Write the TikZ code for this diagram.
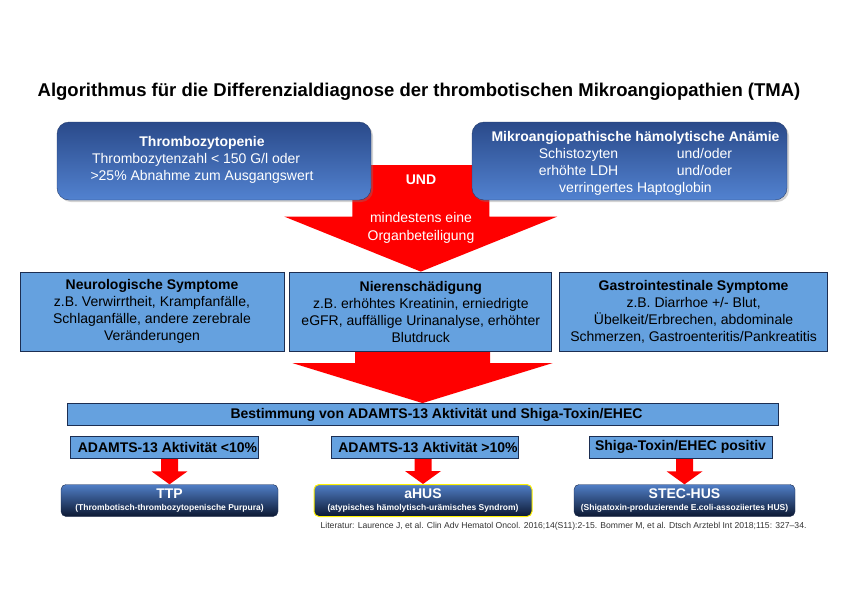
\documentclass[tikz,border=0pt]{standalone}
\usepackage{fontspec}
\setmainfont{Liberation Sans}
\usepackage{tikz}
\usetikzlibrary{positioning, calc, shadows, backgrounds}

\definecolor{headtop}{RGB}{42,74,138}
\definecolor{headbottom}{RGB}{82,130,208}
\definecolor{headline}{RGB}{38,62,110}
\definecolor{organfill}{RGB}{101,161,223}
\definecolor{organline}{RGB}{28,46,82}
\definecolor{arrowred}{RGB}{255,0,0}
\definecolor{resulttop}{RGB}{80,126,198}
\definecolor{resultbottom}{RGB}{12,24,50}
\definecolor{littext}{RGB}{50,50,50}

\newcommand{\diagfont}{\bfseries\fontsize{14}{12}\selectfont}

% block arrow: start, tip, shaft half width, head half width, head length
\newcommand{\redarrow}[5]{%
  \fill[arrowred] let \p1=(#1), \p2=(#2) in
    (\x2-#3,\y1) -- (\x2-#3,\y2+#5) -- (\x2-#4,\y2+#5) -- (\x2,\y2)
    -- (\x2+#4,\y2+#5) -- (\x2+#3,\y2+#5) -- (\x2+#3,\y1) -- cycle;}

\begin{document}
\begin{tikzpicture}[
    x=1pt, y=-1pt,
    every node/.style={font=\fontsize{14}{17}\selectfont},
    headbox/.style={rectangle, rounded corners=12pt, draw=headline, top color=headtop, bottom color=headbottom, minimum width=314pt, minimum height=78pt, drop shadow={shadow xshift=2pt, shadow yshift=-2pt, opacity=0.35}},
    headtext/.style={text=white, align=center, inner sep=0pt},
    organbox/.style={rectangle, draw=organline, fill=organfill, line width=0.8pt, minimum height=79pt, align=center, inner sep=1pt},
    testbox/.style={rectangle, draw=organline, fill=organfill, line width=0.8pt, minimum height=22pt, inner sep=1pt, font=\bfseries\fontsize{14}{16}\selectfont},
    resultbox/.style={rectangle, rounded corners=5pt, draw=headline!70!black, top color=resulttop, bottom color=resultbottom, minimum height=32pt, inner sep=1pt, text=white, align=center, font=\bfseries\fontsize{8.5}{12}\selectfont}
]
\useasboundingbox (0,0) rectangle (842,595);

% Title
\node[font=\bfseries\fontsize{18.5}{22}\selectfont] (title) at (419,92) {Algorithmus für die Differenzialdiagnose der thrombotischen Mikroangiopathien (TMA)};

% Criteria
\node[headbox] (thrombo) at (214,161) {};
\node[headtext] (thrombotext) at ([xshift=-12pt,yshift=1pt]thrombo.center) {\textbf{Thrombozytopenie}\\ \makebox[220pt][l]{Thrombozytenzahl < 150 G/l oder}\\ >25\% Abnahme zum Ausgangswert};

\node[headbox, minimum width=315pt] (maha) at (629.5,161) {};
\node[headtext] (mahatext) at ([xshift=6pt,yshift=-2pt]maha.center) {\textbf{Mikroangiopathische hämolytische Anämie}\\ \makebox[80pt][l]{Schistozyten}\hspace{58pt}und/oder\\ \makebox[80pt][l]{erhöhte LDH}\hspace{58pt}und/oder\\ verringertes Haptoglobin};

\coordinate (split) at (421,165);
\node[text=white, font=\bfseries\fontsize{14}{17}\selectfont] (und) at (421,180) {UND};
\node[text=white, align=center, font=\fontsize{14}{18}\selectfont] (organ) at (421,228) {mindestens eine\\Organbeteiligung};

% Organ involvement
\node[organbox, minimum width=264pt] (neuro) at (152,311.5) {\textbf{Neurologische Symptome}\\z.B. Verwirrtheit, Krampfanfälle,\\Schlaganfälle, andere zerebrale\\Veränderungen};
\node[organbox, minimum width=262pt, right=5pt of neuro] (niere) {\textbf{Nierenschädigung}\\z.B. erhöhtes Kreatinin, erniedrigte\\eGFR, auffällige Urinanalyse, erhöhter\\Blutdruck};
\node[organbox, minimum width=268pt, right=7pt of niere] (gastro) {\textbf{Gastrointestinale Symptome}\\z.B. Diarrhoe +/- Blut,\\Übelkeit/Erbrechen, abdominale\\Schmerzen, Gastroenteritis/Pankreatitis};

% Tests
\node[testbox, minimum width=711pt] (test) at (422.5,414.5) {\hspace*{28pt}Bestimmung von ADAMTS-13 Aktivität und Shiga-Toxin/EHEC};
\node[testbox, minimum width=187pt] (low) at (164.5,447) {\hspace*{6pt}ADAMTS-13 Aktivität <10\%};
\node[testbox, minimum width=186pt] (high) at (425,447) {\hspace*{6pt}ADAMTS-13 Aktivität >10\%};
\node[testbox, minimum width=183pt] (stec) at (680.5,447) {Shiga-Toxin/EHEC positiv};

% Diagnoses
\node[resultbox, minimum width=217pt] (ttp) at (169.5,500.5) {{\diagfont TTP}\\(Thrombotisch-thrombozytopenische Purpura)};
\node[resultbox, minimum width=218pt, draw=yellow, line width=1pt] (ahus) at (423,500.5) {{\diagfont aHUS}\\(atypisches hämolytisch-urämisches Syndrom)};
\node[resultbox, minimum width=221pt] (stechus) at (684.5,500.5) {{\diagfont STEC-HUS}\\(Shigatoxin-produzierende E.coli-assoziiertes HUS)};

\node[anchor=east, text=littext, font=\fontsize{8.6}{10}\selectfont] (lit) at (810,526) {Literatur: Laurence J, et al. Clin Adv Hematol Oncol. 2016;14(S11):2-15. Bommer M, et al. Dtsch Arztebl Int 2018;115: 327--34.};

% Arrows
\begin{scope}[on background layer]
\redarrow{split}{niere.north}{68.5pt}{136.5pt}{55pt}
\redarrow{niere.south}{test.north}{67.5pt}{130pt}{40pt}
\redarrow{low.south}{ttp.north}{8.5pt}{18pt}{13pt}
\redarrow{high.south}{ahus.north}{8.5pt}{18pt}{13pt}
\redarrow{stec.south}{stechus.north}{8.5pt}{18pt}{13pt}
\end{scope}

\end{tikzpicture}
\end{document}
